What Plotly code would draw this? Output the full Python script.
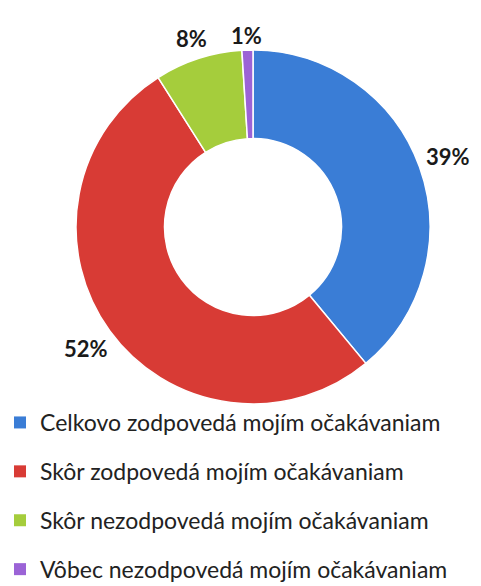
import math
import plotly.graph_objects as go

categories = [
    "Celkovo zodpovedá mojím očakávaniam",
    "Skôr zodpovedá mojím očakávaniam",
    "Skôr nezodpovedá mojím očakávaniam",
    "Vôbec nezodpovedá mojím očakávaniam",
]
values = [39, 52, 8, 1]
colors = ["#3A7DD6", "#D83B35", "#A5CD3C", "#9B63D6"]

W, H = 481, 586
CX, CY, R = 245, 219, 177   # pie centre / radius in pixels (layout)

fig = go.Figure()

fig.add_trace(go.Pie(
    labels=categories,
    values=values,
    hole=0.5,
    sort=False,
    direction="clockwise",
    rotation=0,
    marker=dict(colors=colors, line=dict(color="white", width=1.5)),
    textinfo="none",
    showlegend=False,
    domain=dict(x=[(CX - R) / W, (CX + R) / W], y=[1 - (CY + R) / H, 1 - (CY - R) / H]),
    hoverinfo="label+percent",
))

# outside percentage labels, positioned from the slice mid-angles
total = sum(values)
cum = 0.0
hw, hh, gap = 25, 11, 3
for v in values:
    mid = (cum + v / 2) / total * 2 * math.pi
    cum += v
    s, c = math.sin(mid), math.cos(mid)
    d = R + gap + hw * abs(s) + hh * abs(c)
    px, py = CX + d * s, CY - d * c
    fig.add_annotation(
        x=px / W, y=1 - py / H, xref="paper", yref="paper",
        text=f"{v / total * 100:.0f}%", showarrow=False,
        xanchor="center", yanchor="middle",
        font=dict(family="Lato", size=22, color="#1a1a1a", weight="bold"),
    )

for i, (cat, col) in enumerate(zip(categories, colors)):
    fig.add_trace(go.Scatter(
        x=[None], y=[None], mode="markers", name=cat,
        marker=dict(symbol="square", size=15, color=col),
        legendgroup=f"g{i}", showlegend=True,
    ))

fig.update_layout(
    width=W, height=H,
    margin=dict(l=0, r=0, t=0, b=0, autoexpand=False),
    paper_bgcolor="white", plot_bgcolor="white",
    xaxis=dict(visible=False), yaxis=dict(visible=False),
    legend=dict(
        x=-8 / W, y=1 - 393 / H, xanchor="left", yanchor="top",
        font=dict(family="Lato", size=23, color="#222222"),
        tracegroupgap=16, itemsizing="constant", itemwidth=30,
        bgcolor="rgba(0,0,0,0)",
    ),
)

fig.write_html("out.html")
